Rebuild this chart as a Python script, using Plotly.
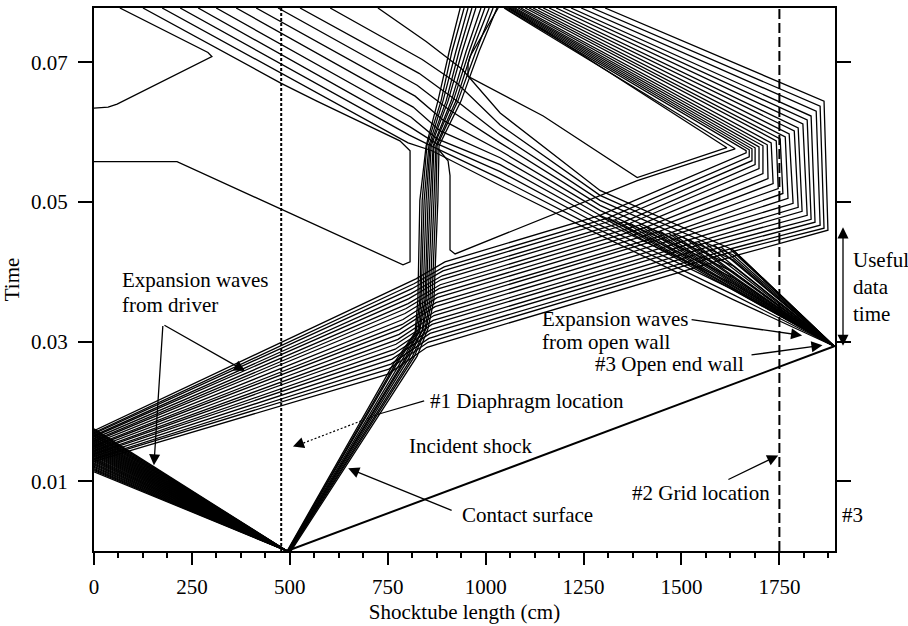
import plotly.graph_objects as go

# ---------------------------------------------------------------- axes / markers
X_RANGE = [0.0, 1892.0]        # shocktube length, cm
T_RANGE = [0.0, 0.0778]        # time, s
T_TOP = 0.0778

BURST_X = 493.0                # diaphragm rupture point (wave origin)
DIAPHRAGM_MARK_X = 478.0       # #1 diaphragm location
GRID_X = 1750.0                # #2 grid location
OPEN_END_X = 1890.0            # #3 open end wall
SHOCK_END_T = 0.02934          # incident shock reaches the open end

X_TICKS = [0, 250, 500, 750, 1000, 1250, 1500, 1750]
T_TICKS = [0.01, 0.03, 0.05, 0.07]
T_TICK_TEXT = ["0.01", "0.03", "0.05", "0.07"]

# ------------------------------------------------ left-going fan from the diaphragm
FAN_WALL_T = [0.01135, 0.01151, 0.01167, 0.01182, 0.01198, 0.01214, 0.01230, 0.01245,
              0.01261, 0.01277, 0.01293, 0.01308, 0.01324, 0.01340, 0.01356, 0.01371,
              0.01387, 0.01403, 0.01419, 0.01434, 0.01450, 0.01466, 0.01482, 0.01497,
              0.01513, 0.01529, 0.01545, 0.01560, 0.01576, 0.01592, 0.01608, 0.01623,
              0.01639, 0.01655, 0.01671, 0.01686, 0.01702, 0.01718, 0.01734, 0.01750]

# ------------------------------- fan reflected from the driver end wall (right-going)
DRV_WALL_T = [0.01284, 0.01312, 0.01327, 0.01355, 0.01384, 0.01398, 0.01426, 0.01440,
              0.01469, 0.01497, 0.01512, 0.01540, 0.01568, 0.01583, 0.01611, 0.01640,
              0.01654, 0.01682, 0.01696, 0.01725]
DRV_IN_X = [751, 753, 758, 761, 764, 769, 771, 776, 779, 781,
            787, 789, 794, 797, 802, 804, 809, 812, 817, 822]
DRV_IN_T = [0.02535, 0.02607, 0.02678, 0.02749, 0.02820, 0.02891, 0.02962, 0.03033,
            0.03104, 0.03175, 0.03246, 0.03317, 0.03403, 0.03474, 0.03545, 0.03616,
            0.03687, 0.03758, 0.03829, 0.03900]
DRV_OUT_X = [850, 853, 855, 858, 861, 863, 866, 868, 871, 871,
             873, 876, 878, 881, 884, 886, 889, 891, 894, 896]
DRV_OUT_T = [0.02919, 0.02990, 0.03047, 0.03118, 0.03175, 0.03246, 0.03303, 0.03374,
             0.03431, 0.03502, 0.03559, 0.03630, 0.03687, 0.03758, 0.03815, 0.03886,
             0.03943, 0.04014, 0.04071, 0.04142]
# where each member leaves the open-end fan on its far side
DRV_CROSS_X = [1645, 1634, 1624, 1601, 1583, 1560, 1542, 1519, 1504, 1481,
               1468, 1445, 1427, 1410, 1392, 1369, 1353, 1330, 1313, 1290]
DRV_CROSS_T = [0.04242, 0.04298, 0.04327, 0.04355, 0.04384, 0.04412, 0.04434, 0.04465,
               0.04498, 0.04529, 0.04550, 0.04583, 0.04611, 0.04640, 0.04668, 0.04696,
               0.04715, 0.04746, 0.04773, 0.04806]

# ---------------------------- waves turned back at the open end (nested "boxes")
END_LOW_X = [1874, 1864, 1854, 1841, 1831, 1821, 1808, 1798, 1785, 1772,
             1759, 1747, 1734, 1721, 1708, 1698, 1688, 1680, 1673, 1665]
END_LOW_T = [0.04597, 0.04625, 0.04668, 0.04711, 0.04753, 0.04810, 0.04867, 0.04924,
             0.04981, 0.05052, 0.05123, 0.05194, 0.05265, 0.05336, 0.05408, 0.05479,
             0.05536, 0.05592, 0.05649, 0.05706]
END_HIGH_X = [1864, 1854, 1844, 1831, 1821, 1810, 1798, 1788, 1775, 1765,
              1752, 1742, 1729, 1719, 1708, 1698, 1688, 1680, 1673, 1665]
END_HIGH_T = [0.06446, 0.06374, 0.06303, 0.06232, 0.06175, 0.06118, 0.06062, 0.06019,
              0.05976, 0.05934, 0.05905, 0.05877, 0.05848, 0.05820, 0.05806, 0.05791,
              0.05777, 0.05763, 0.05749, 0.05735]
RETURN_TOP_X = [1305, 1272, 1244, 1218, 1198, 1180, 1162, 1147, 1134, 1121,
                1111, 1101, 1090, 1083, 1075, 1070, 1065, 1060, 1055, 1050]

# ------------------------------------- expansion fan from the open end (left-going)
OPN_X1 = 1632
OPN_T1 = [0.03602, 0.03673, 0.03744, 0.03829, 0.03915, 0.04000, 0.04085, 0.04171, 0.04242, 0.04313]
OPN_X2 = 1292
OPN_T2 = [0.04526, 0.04597, 0.04668, 0.04739, 0.04810, 0.04881, 0.04953, 0.05024, 0.05095, 0.05166]
OPN_X3 = 1037
OPN_T3 = [0.05237, 0.05336, 0.05436, 0.05535, 0.05635, 0.05735, 0.05848, 0.05962, 0.06104, 0.06275]
OPN_CROSS_X = [863, 866, 871, 876, 884, 894, 904, 914, 927, 940]
OPN_CROSS_T = [0.05735, 0.05791, 0.05848, 0.05905, 0.06019, 0.06162, 0.06332, 0.06502, 0.06701, 0.06901]
OPN_KINK_X = [802, 804, 807, 809, 815, 820, 825, 830, 838, 848]
OPN_KINK_T = [0.05848, 0.05962, 0.06076, 0.06218, 0.06360, 0.06517, 0.06673, 0.06844, 0.07043, 0.07299]
OPN_TOP_X = [174, 220, 266, 312, 363, 414, 470, 526, 603, 725]

# ------------------------------------------------------------- contact surface band
CS_X0 = [493, 494, 495, 496, 497, 498, 499, 500, 501, 503]
CS_X1 = [764, 771, 776, 784, 792, 797, 804, 812, 817, 825]
CS_T1 = [0.02678, 0.02692, 0.02706, 0.02720, 0.02734, 0.02749, 0.02763, 0.02777, 0.02777, 0.02792]
CS_X2 = [820, 822, 827, 830, 832, 838, 840, 845, 848, 853]
CS_T2 = [0.03133, 0.03133, 0.03147, 0.03147, 0.03161, 0.03161, 0.03175, 0.03175, 0.03189, 0.03189]
CS_LEVEL_T = [0.03602, 0.05024, 0.05806, 0.06446, 0.07157, 0.0778]
CS_LEVEL_X = [
    [827, 832, 835, 840, 845, 848, 853, 858, 863, 868],
    [832, 838, 843, 848, 853, 858, 863, 868, 873, 878],
    [848, 850, 855, 858, 861, 866, 868, 873, 876, 881],
    [878, 886, 891, 899, 904, 912, 917, 924, 929, 937],
    [907, 914, 924, 932, 940, 950, 958, 965, 975, 983],
    [935, 945, 955, 965, 975, 988, 998, 1009, 1019, 1029],
]

# ------------------------------------------------------------ isolated contours
LEFT_LOOP_X = [125, 478, 569, 781, 807, 807, 789, 212, 0]
LEFT_LOOP_T = [0.0778, 0.06701, 0.06446, 0.05877, 0.05735, 0.04142, 0.04100, 0.05578, 0.05578]
WALL_TIP_X = [66, 291, 301, 59, 36, 0]
WALL_TIP_T = [0.0778, 0.07142, 0.07085, 0.06403, 0.06360, 0.06346]
RIGHT_LOOP_X = [878, 904, 909, 909, 922, 1387, 1637, 1047]
RIGHT_LOOP_T = [0.05763, 0.05592, 0.05379, 0.04313, 0.04256, 0.05308, 0.05763, 0.0778]
POCKET_X = [1032, 960, 955, 955, 1147, 1387, 1616, 1060]
POCKET_T = [0.0778, 0.07085, 0.06986, 0.06801, 0.06232, 0.05351, 0.05778, 0.0778]


def join(paths):
    xs, ys = [], []
    for px_, py_ in paths:
        xs += list(px_) + [None]
        ys += list(py_) + [None]
    return xs, ys


paths = []
for tw in FAN_WALL_T:
    paths.append(([BURST_X, 0], [0.0, tw]))

for i in range(len(DRV_WALL_T)):
    paths.append(([0, DRV_IN_X[i], DRV_OUT_X[i], DRV_CROSS_X[i],
                   END_LOW_X[i], END_HIGH_X[i], RETURN_TOP_X[i]],
                  [DRV_WALL_T[i], DRV_IN_T[i], DRV_OUT_T[i], DRV_CROSS_T[i],
                   END_LOW_T[i], END_HIGH_T[i], T_TOP]))
    # branch running from the open end up to the same crossing point
    paths.append(([OPEN_END_X, DRV_CROSS_X[i]], [SHOCK_END_T, DRV_CROSS_T[i]]))

for i in range(len(OPN_T1)):
    paths.append(([OPEN_END_X, OPN_X1, OPN_X2, OPN_X3, OPN_CROSS_X[i], OPN_KINK_X[i], OPN_TOP_X[i]],
                  [SHOCK_END_T, OPN_T1[i], OPN_T2[i], OPN_T3[i], OPN_CROSS_T[i], OPN_KINK_T[i], T_TOP]))
for j in range(len(CS_X0)):
    paths.append(([CS_X0[j], CS_X1[j], CS_X2[j]] + [lv[j] for lv in CS_LEVEL_X],
                  [0.0, CS_T1[j], CS_T2[j]] + CS_LEVEL_T))
paths.append((LEFT_LOOP_X, LEFT_LOOP_T))
paths.append((WALL_TIP_X, WALL_TIP_T))
paths.append((RIGHT_LOOP_X, RIGHT_LOOP_T))
paths.append((POCKET_X, POCKET_T))

cx, cy = join(paths)

fig = go.Figure()
fig.add_trace(go.Scatter(x=cx, y=cy, mode="lines", line=dict(color="black", width=1.3),
                         hoverinfo="skip", showlegend=False))
# incident shock
fig.add_trace(go.Scatter(x=[BURST_X, OPEN_END_X], y=[0.0, SHOCK_END_T], mode="lines",
                         line=dict(color="black", width=2), hoverinfo="skip", showlegend=False))

# station markers
fig.add_shape(type="line", xref="x", yref="paper", x0=DIAPHRAGM_MARK_X, x1=DIAPHRAGM_MARK_X,
              y0=0, y1=1, line=dict(color="black", width=2, dash="3px,2px"))
fig.add_shape(type="line", xref="x", yref="paper", x0=GRID_X, x1=GRID_X,
              y0=0, y1=1, line=dict(color="black", width=2, dash="10px,4px"))

# leader for the diaphragm label: solid near the text, dotted toward the marker
fig.add_trace(go.Scatter(x=[843, 730], y=[0.02151, 0.01967], mode="lines",
                         line=dict(color="black", width=1.2), hoverinfo="skip", showlegend=False))
fig.add_trace(go.Scatter(x=[730, 520], y=[0.01967, 0.01515], mode="lines",
                         line=dict(color="black", width=1.2, dash="2px,2px"),
                         hoverinfo="skip", showlegend=False))

FONT = "Liberation Serif"
TXT = dict(family=FONT, size=21, color="black")

ann = []


def label(text, x, y, anchor="left", ref=("x", "y")):
    ann.append(dict(text=text, x=x, y=y, xref=ref[0], yref=ref[1], showarrow=False,
                    xanchor=anchor, yanchor="middle", font=TXT))


def arrow(x, y, ax, ay, data_tail=True, **kw):
    d = dict(text="", x=x, y=y, xref="x", yref="y", showarrow=True, arrowhead=2,
             arrowsize=1.7, arrowwidth=1.3, arrowcolor="black", ax=ax, ay=ay)
    if data_tail:
        d.update(axref="x", ayref="y")
    d.update(kw)
    ann.append(d)


label("Expansion waves", 66, 0.03886)
label("from driver", 66, 0.03531)
arrow(386, 0.02578, 176, 0.03246)
arrow(153, 0.01227, 176, 0.03246)

label("#1 Diaphragm location", 853, 0.02151)
arrow(508, 0.01497, 11, -4, data_tail=False)

label("Incident shock", 963, 0.01511, anchor="center")

label("Contact surface", 935, 0.00516)
arrow(649, 0.01184, 917, 0.00573)

label("Expansion waves", 1139, 0.03317)
label("from open wall", 1139, 0.02990)
arrow(1808, 0.03089, 1522, 0.03317)

label("#3 Open end wall", 1274, 0.02678)
arrow(1860, 0.02948, 1675, 0.02806)

label("#2 Grid location", 1369, 0.00829)
arrow(1747, 0.01369, 1616, 0.01014)

label("#3", 1.024, 0.066, anchor="center", ref=("paper", "paper"))
label("Useful", 1.0216, 0.5356, ref=("paper", "paper"))
label("data", 1.0216, 0.4863, ref=("paper", "paper"))
label("time", 1.0216, 0.4369, ref=("paper", "paper"))
ann.append(dict(text="", x=1.0108, y=0.596, xref="paper", yref="paper", showarrow=True,
                arrowhead=2, arrowside="end+start", arrowsize=1.7, arrowwidth=1.3,
                arrowcolor="black", ax=0, ay=120))

fig.update_layout(
    width=908, height=626,
    margin=dict(l=94, r=73, t=6, b=73),
    paper_bgcolor="white", plot_bgcolor="white",
    font=TXT,
    annotations=ann,
    showlegend=False,
    xaxis=dict(range=X_RANGE, tickmode="array", tickvals=X_TICKS,
               ticks="outside", ticklen=12, tickwidth=2, tickcolor="black",
               showline=True, linewidth=2, linecolor="black", mirror=True,
               showgrid=False, zeroline=False, ticklabelstandoff=4,
               minor=dict(dtick=62.5, tick0=0, ticks="outside", ticklen=5,
                          tickwidth=1.5, tickcolor="black", showgrid=False),
               title=dict(text="Shocktube length (cm)", standoff=6, font=TXT),
               tickfont=TXT),
    yaxis=dict(range=T_RANGE, tickmode="array", tickvals=T_TICKS, ticktext=T_TICK_TEXT,
               ticks="outside", ticklen=14, tickwidth=2, tickcolor="black",
               showline=True, linewidth=2, linecolor="black", mirror="ticks",
               showgrid=False, zeroline=False, ticklabelstandoff=6,
               title=dict(text="Time", standoff=10, font=TXT),
               tickfont=TXT),
)

fig.write_html("out.html")
